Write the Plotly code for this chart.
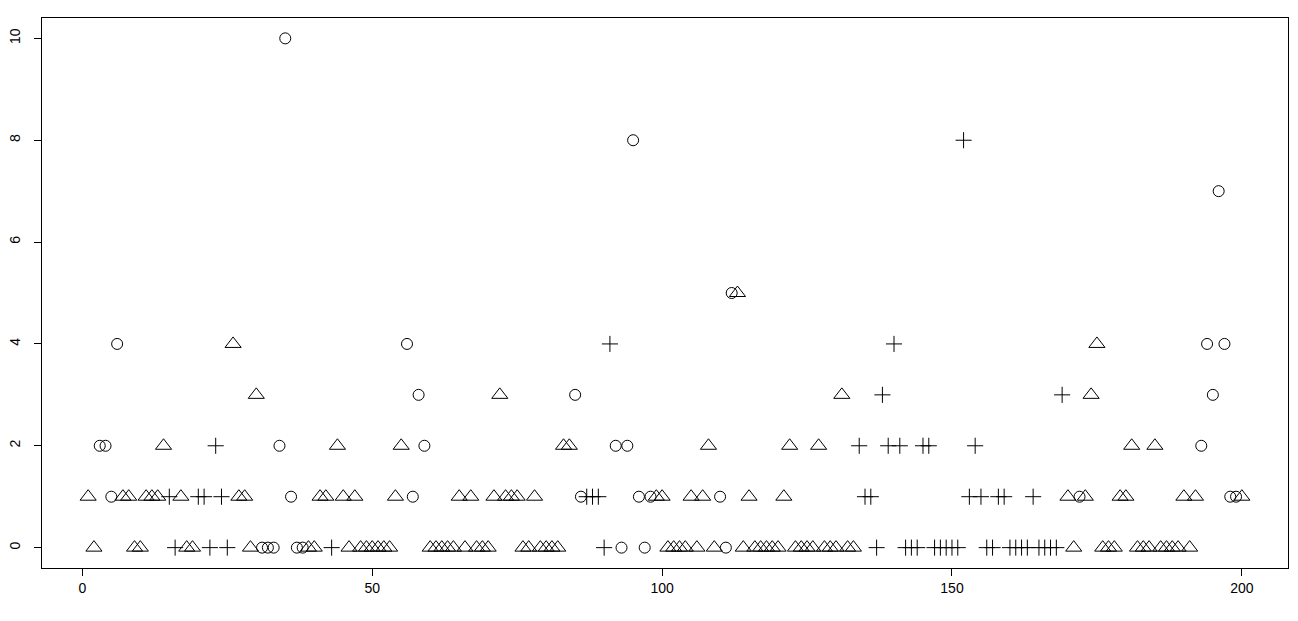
import plotly.graph_objects as go

counts = [
    1, 0, 2, 2, 1, 4, 1, 1, 0, 0, 1, 1, 1, 2, 1, 0, 1, 0, 0, 1,
    1, 0, 2, 1, 0, 4, 1, 1, 0, 3, 0, 0, 0, 2, 10, 1, 0, 0, 0, 0,
    1, 1, 0, 2, 1, 0, 1, 0, 0, 0, 0, 0, 0, 1, 2, 4, 1, 3, 2, 0,
    0, 0, 0, 0, 1, 0, 1, 0, 0, 0, 1, 3, 1, 1, 1, 0, 0, 1, 0, 0,
    0, 0, 2, 2, 3, 1, 1, 1, 1, 0, 4, 2, 0, 2, 8, 1, 0, 1, 1, 1,
    0, 0, 0, 0, 1, 0, 1, 2, 0, 1, 0, 5, 5, 0, 1, 0, 0, 0, 0, 0,
    1, 2, 0, 0, 0, 0, 2, 0, 0, 0, 3, 0, 0, 2, 1, 1, 0, 3, 2, 4,
    2, 0, 0, 0, 2, 2, 0, 0, 0, 0, 0, 8, 1, 2, 1, 0, 0, 1, 1, 0,
    0, 0, 0, 1, 0, 0, 0, 0, 3, 1, 0, 1, 1, 3, 4, 0, 0, 0, 1, 1,
    2, 0, 0, 0, 2, 0, 0, 0, 0, 1, 0, 1, 2, 4, 3, 7, 4, 1, 1, 1,
]

# plotting symbol group per observation: C = circle, T = triangle, P = plus
groups = list(
    "TTCCCCTTTTTTTTPPTTTP"
    "PPPPPTTTTTCCCCCCCCTT"
    "TTPTTTTTTTTTTTTCCCCT"
    "TTTTTTTTTTTTTTTTTTTT"
    "TTTTCCPPPPPCCCCCCCTT"
    "TTTTTTTTTCCCTTTTTTTT"
    "TTTTTTTTTTTTTPPPPPPP"
    "PPPPPPPPPPPPPPPPPPPP"
    "PPPPPPPPPTTCTTTTTTTT"
    "TTTTTTTTTTTTCCCCCCCT"
)

x_ticks = [0, 50, 100, 150, 200]
y_ticks = [0, 2, 4, 6, 8, 10]

index = list(range(1, len(counts) + 1))

MARKERS = {
    'C': dict(symbol='circle-open', size=11),
    'T': dict(symbol='triangle-up-open', size=14),
    'P': dict(symbol='cross-thin-open', size=11.5),
}

fig = go.Figure()

for code, m in MARKERS.items():
    xs = [i for i, g in zip(index, groups) if g == code]
    ys = [c for c, g in zip(counts, groups) if g == code]
    fig.add_trace(go.Scatter(
        x=xs, y=ys,
        mode='markers',
        marker=dict(symbol=m['symbol'], size=m['size'], color='black',
                    line=dict(color='black', width=1)),
        showlegend=False,
        hoverinfo='x+y'
    ))

axis_style = dict(
    showline=True, mirror=True, linecolor='black', linewidth=1,
    ticks='outside', ticklen=7, tickwidth=1, tickcolor='black',
    showgrid=False, zeroline=False, automargin=False,
    tickfont=dict(size=14, color='black', family='Arial, Liberation Sans'),
)

# page body has an 8px margin, so the figure is a bit smaller than the window
fig.update_layout(
    width=1290, height=613,
    plot_bgcolor='white', paper_bgcolor='white',
    margin=dict(l=34, r=10, t=10, b=53),
    xaxis=dict(range=[-6.96, 207.96], tickvals=x_ticks, **axis_style),
    yaxis=dict(range=[-0.4, 10.4], tickvals=y_ticks, tickangle=-90,
               ticklabelstandoff=8, **axis_style),
)

fig.write_html("out.html")
